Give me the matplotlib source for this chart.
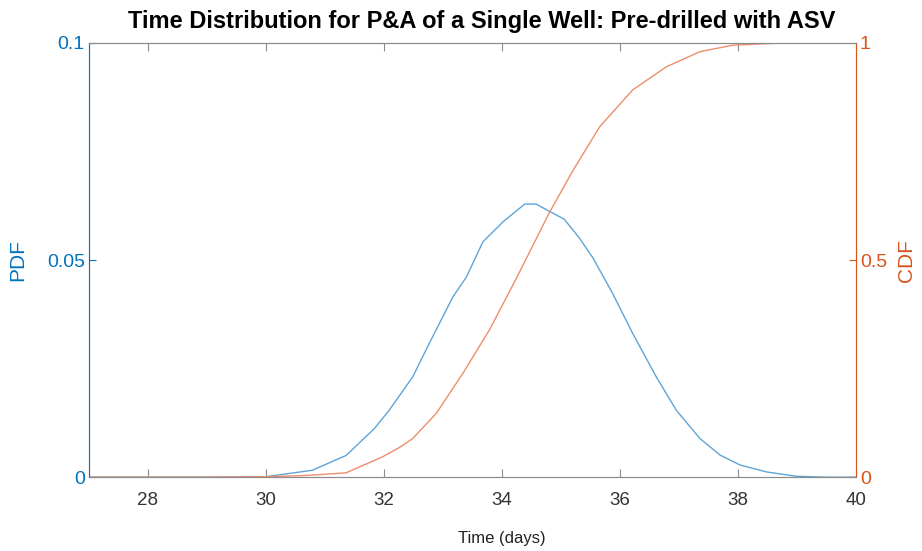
import matplotlib.pyplot as plt

plt.rcParams["font.family"] = ["Liberation Sans", "DejaVu Sans"]

# values
pdf_days = [27.0, 29.0, 30.0, 30.79, 31.19, 31.36, 31.84, 32.09, 32.49, 32.77,
            33.17, 33.40, 33.68, 34.02, 34.39, 34.58, 35.06, 35.32, 35.55,
            35.88, 36.22, 36.62, 36.96, 37.36, 37.70, 38.04, 38.49, 39.0,
            39.5, 40.0]
pdf_vals = [0.0, 0.0, 0.0001, 0.0016, 0.0040, 0.0050, 0.0112, 0.0154, 0.0231,
            0.0308, 0.0415, 0.0461, 0.0542, 0.0588, 0.0629, 0.0629, 0.0594,
            0.0550, 0.0504, 0.0423, 0.0331, 0.0231, 0.0154, 0.0089, 0.0051,
            0.0028, 0.0012, 0.0002, 0.0, 0.0]

cdf_days = [27.0, 28.7, 30.0, 30.7, 31.36, 31.98, 32.26, 32.49, 32.89, 33.34,
            33.79, 34.24, 34.81, 35.21, 35.66, 36.22, 36.79, 37.36, 37.92,
            38.77, 40.0]
cdf_vals = [0.0, 0.0, 0.001, 0.004, 0.010, 0.047, 0.068, 0.089, 0.147, 0.239,
            0.339, 0.456, 0.610, 0.707, 0.807, 0.892, 0.945, 0.980, 0.995,
            1.0, 1.0]

x_ticks = [28, 30, 32, 34, 36, 38, 40]

blue = "#0072BD"
orange = "#D95319"
line_blue = "#5DA5D8"
line_orange = "#EC8E6C"
axis_gray = "#8C8C8C"


def main():
    fig = plt.figure(figsize=(9.22, 5.51), dpi=100)
    ax = fig.add_axes([0.0965, 0.134, 0.8315, 0.788])
    ax2 = ax.twinx()

    ax.plot(pdf_days, pdf_vals, color=line_blue, lw=1.0)
    ax2.plot(cdf_days, cdf_vals, color=line_orange, lw=1.0)

    ax.set_xlim(27, 40)
    ax.set_ylim(0, 0.1)
    ax2.set_ylim(0, 1)
    ax.set_xticks(x_ticks)
    ax.set_yticks([0, 0.05, 0.1])
    ax.set_yticklabels(["0", "0.05", "0.1"])
    ax2.set_yticks([0, 0.5, 1])
    ax2.set_yticklabels(["0", "0.5", "1"])

    for a in (ax, ax2):
        a.spines["top"].set_color(axis_gray)
        a.spines["bottom"].set_color(axis_gray)
        a.spines["left"].set_color(blue)
        a.spines["right"].set_color(orange)
    ax.spines["left"].set_alpha(0.6)
    ax2.spines["right"].set_alpha(0.6)

    ax.tick_params(axis="x", direction="in", length=6, colors=axis_gray,
                   labelcolor="#333333", labelsize=13.5, top=True, pad=11)
    ax.tick_params(axis="y", direction="in", length=5, colors=blue,
                   labelsize=14, pad=3)
    ax2.tick_params(axis="y", direction="in", length=5, colors=orange,
                    labelsize=14, pad=3)

    ax.set_ylabel("PDF", color=blue, fontsize=15, labelpad=14)
    ax2.set_ylabel("CDF", color=orange, fontsize=15, labelpad=7)
    ax.set_xlabel("Time (days)", fontsize=12, color="#222222")
    ax.xaxis.set_label_coords(0.538, -0.125)
    ax.set_title("Time Distribution for P&A of a Single Well: Pre-drilled with ASV",
                 fontsize=17, fontweight="bold", pad=11, x=0.512)

    fig.savefig("out.png", dpi=100)


if __name__ == "__main__":
    main()
